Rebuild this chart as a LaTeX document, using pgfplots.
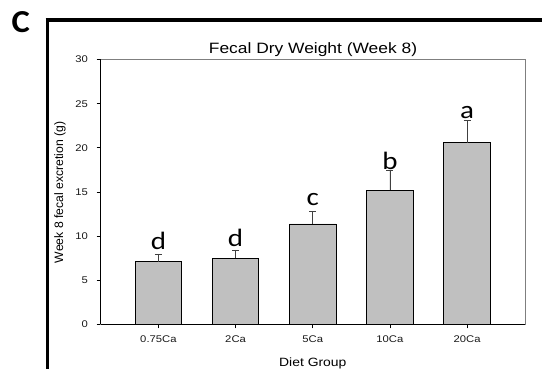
\documentclass[border=0pt]{standalone}
\usepackage{pgfplots}
\pgfplotsset{compat=1.18}
\usepackage{fontspec}
\setmainfont{Liberation Sans}[FakeStretch=1.16]
\newfontfamily\plainsans{Liberation Sans}
\newfontfamily\carlito{Carlito}[FakeStretch=1.16]
\newfontfamily\carlitob{Carlito Bold}[FakeStretch=1.08]
\definecolor{barfill}{HTML}{C0C0C0}
\definecolor{errc}{HTML}{404040}
\definecolor{boxc}{HTML}{7F7F7F}
\pgfplotstableread{
x y err
0 7.12 0.87
1 7.50 0.94
2 11.38 1.38
3 15.20 2.20
4 20.60 2.53
}\fecal
\begin{document}
\begin{tikzpicture}
\useasboundingbox (0,0) rectangle (542bp,369bp);
% panel frame
\draw[line width=3.3bp] (47.3bp,0) -- (47.3bp,349bp);
\draw[line width=3.3bp] (45.6bp,349bp) -- (542bp,349bp);
\node[anchor=base west, inner sep=0pt, font=\carlitob\fontsize{32bp}{36bp}\selectfont] at (11.5bp,336bp) {C};
\begin{axis}[
  at={(100.5bp,44.5bp)}, anchor=south west,
  scale only axis, width=424.5bp, height=265bp,
  xmin=-0.75, xmax=4.75, ymin=0, ymax=30,
  xtick={0,1,2,3,4},
  xticklabels={0.75Ca,2Ca,5Ca,10Ca,20Ca},
  ytick={0,5,10,15,20,25,30},
  minor tick num=0,
  tick align=outside,
  xtick pos=bottom, ytick pos=left,
  major tick length=4bp,
  tick style={black, line width=0.8bp},
  axis line style={boxc, line width=0.8bp},
  /pgf/number format/assume math mode=true,
  tick label style={font=\fontsize{9.7bp}{11bp}\selectfont, text=black!90},
  yticklabel style={inner sep=0pt, xshift=-8.5bp},
  xticklabel style={inner sep=0pt, yshift=-7.5bp},
  clip=false,
]
\addplot[ybar, bar width=46.7bp, fill=barfill, draw=black, line width=0.9bp,
  error bars/.cd, y dir=plus, y explicit,
  error bar style={errc, line width=0.8bp},
  error mark options={rotate=90, mark size=3.5bp, errc, line width=0.8bp}]
  table[x=x, y=y, y error=err] {\fecal};
\draw[black, line width=0.9bp] (rel axis cs:0,0) -- (rel axis cs:0,1);
\draw[black, line width=0.9bp] (rel axis cs:0,0) -- (rel axis cs:1,0);
\begin{scope}[every node/.style={anchor=base, inner sep=0pt, font=\carlito\fontsize{25bp}{28bp}\selectfont}]
\node at (axis cs:0,8.44) {d};
\node at (axis cs:1,8.81) {d};
\node at (axis cs:2,13.52) {c};
\node at (axis cs:3,17.6) {b};
\node at (axis cs:4,23.3) {a};
\end{scope}
\end{axis}
\node[anchor=base, inner sep=0pt, font=\fontsize{15bp}{18bp}\selectfont] at (313bp,315.7bp) {Fecal Dry Weight (Week 8)};
\node[anchor=base, inner sep=0pt, font=\fontsize{12bp}{14bp}\selectfont] at (312.8bp,2.5bp) {Diet Group};
\node[rotate=90, inner sep=0pt, font=\plainsans\fontsize{12.2bp}{14bp}\selectfont] at (60bp,176.5bp) {Week 8 fecal excretion (g)};
\end{tikzpicture}
\end{document}
